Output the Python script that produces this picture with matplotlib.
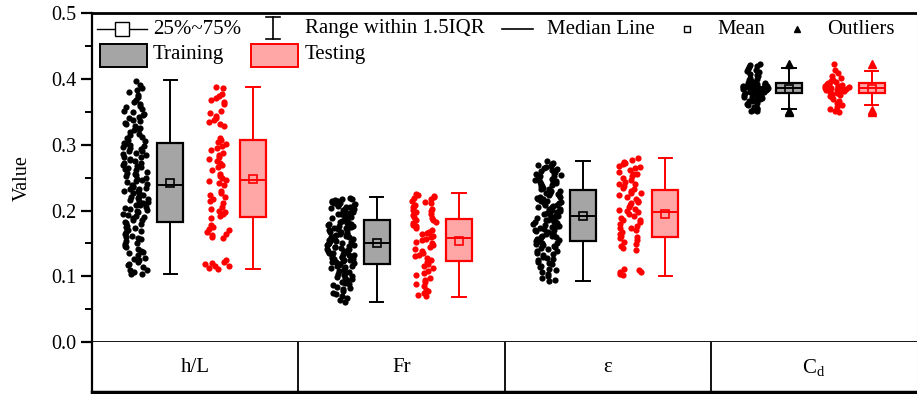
import numpy as np
import matplotlib
matplotlib.use("Agg")
import matplotlib.pyplot as plt
from matplotlib.patches import Rectangle
from matplotlib.lines import Line2D

plt.rcParams["font.family"] = ["Liberation Serif", "DejaVu Serif"]
plt.rcParams["mathtext.fontset"] = "custom"
plt.rcParams["mathtext.rm"] = "Liberation Serif"

# ---------------------------------------------------------------- data
CATEGORIES = ["h/L", "Fr", "ε", r"$\mathregular{C_d}$"]

HL_TRAIN = [0.103, 0.104, 0.106, 0.109, 0.110, 0.114, 0.117, 0.118, 0.122, 0.125, 0.127, 0.128,
            0.132, 0.135, 0.137, 0.139, 0.142, 0.144, 0.146, 0.149, 0.151, 0.153, 0.156, 0.158,
            0.159, 0.162, 0.165, 0.167, 0.169, 0.171, 0.173, 0.175, 0.177, 0.179, 0.181,
            0.183, 0.185, 0.186, 0.188, 0.190, 0.192, 0.193, 0.195, 0.197, 0.199, 0.201, 0.202,
            0.204, 0.206, 0.208, 0.209, 0.211, 0.213, 0.214, 0.216, 0.218, 0.219, 0.221, 0.222,
            0.224, 0.226, 0.227, 0.229, 0.230, 0.232, 0.233, 0.235, 0.236, 0.238, 0.239,
            0.241, 0.243, 0.245, 0.246, 0.248, 0.250, 0.252, 0.254, 0.255, 0.257, 0.259, 0.261,
            0.263, 0.264, 0.266, 0.268, 0.270, 0.272, 0.273, 0.275, 0.277, 0.279, 0.281, 0.282,
            0.284, 0.286, 0.288, 0.290, 0.291, 0.293, 0.295, 0.296, 0.298, 0.300, 0.301,
            0.303, 0.305, 0.308, 0.310, 0.312, 0.315, 0.317, 0.319, 0.322, 0.324, 0.326, 0.329,
            0.331, 0.333, 0.336, 0.338, 0.340, 0.343, 0.345, 0.347, 0.350, 0.352, 0.354, 0.357,
            0.359, 0.362, 0.365, 0.368, 0.372, 0.376, 0.380, 0.384, 0.386, 0.391, 0.397]
HL_TEST = [0.111, 0.113, 0.115, 0.116, 0.118, 0.120, 0.121, 0.124,
           0.158, 0.160, 0.163, 0.165, 0.167, 0.170, 0.172, 0.175, 0.178,
           0.189, 0.192, 0.195, 0.198, 0.200, 0.203, 0.206,
           0.212, 0.215, 0.218, 0.221, 0.224, 0.227, 0.230,
           0.239, 0.242, 0.245, 0.247, 0.250, 0.253, 0.256,
           0.262, 0.266, 0.269, 0.272, 0.275, 0.278, 0.281, 0.284, 0.287,
           0.292, 0.295, 0.298, 0.301, 0.304, 0.307, 0.311,
           0.328, 0.331, 0.334, 0.337, 0.340, 0.344, 0.348, 0.352,
           0.362, 0.365, 0.368, 0.371, 0.374, 0.377, 0.386, 0.388]
FR_TRAIN = [0.061, 0.064, 0.067, 0.070, 0.073, 0.075, 0.078, 0.080, 0.082, 0.084, 0.086, 0.088,
            0.090, 0.092, 0.094, 0.096, 0.097, 0.099, 0.101, 0.102, 0.104, 0.105, 0.107, 0.108,
            0.110, 0.111, 0.113, 0.114, 0.115, 0.116, 0.117, 0.118,
            0.119, 0.120, 0.122, 0.123, 0.124, 0.125, 0.127, 0.128, 0.129, 0.130, 0.131, 0.133,
            0.134, 0.135, 0.136, 0.137, 0.138, 0.139, 0.141, 0.142, 0.143, 0.144, 0.145, 0.146,
            0.147, 0.148, 0.149, 0.150, 0.126, 0.132, 0.140, 0.121,
            0.151, 0.152, 0.153, 0.154, 0.155, 0.156, 0.157, 0.159, 0.160, 0.161, 0.162, 0.163,
            0.164, 0.165, 0.166, 0.167, 0.168, 0.170, 0.171, 0.172, 0.173, 0.174, 0.175, 0.176,
            0.177, 0.178, 0.179, 0.180, 0.181, 0.182, 0.183, 0.184,
            0.186, 0.187, 0.188, 0.189, 0.190, 0.192, 0.193, 0.194, 0.195, 0.196, 0.197, 0.199,
            0.200, 0.201, 0.202, 0.203, 0.204, 0.205, 0.206, 0.207, 0.208, 0.209, 0.210, 0.211,
            0.212, 0.213, 0.214, 0.215, 0.216, 0.217, 0.218, 0.219]
FR_TEST = [0.070, 0.072, 0.074, 0.077, 0.079, 0.085, 0.088, 0.092, 0.095, 0.098, 0.102, 0.105,
           0.108, 0.112, 0.115, 0.118, 0.121,
           0.125, 0.128, 0.131, 0.133, 0.136, 0.139, 0.141, 0.144, 0.147, 0.150, 0.152, 0.155, 0.157,
           0.159, 0.161, 0.164, 0.166, 0.168, 0.171, 0.173, 0.176, 0.178, 0.181, 0.183, 0.185, 0.186,
           0.188, 0.190, 0.193, 0.195, 0.197, 0.199, 0.201, 0.203, 0.205, 0.207, 0.209, 0.211,
           0.213, 0.215, 0.217, 0.219, 0.221, 0.222, 0.224, 0.225]
EPS_TRAIN = [0.093, 0.095, 0.097, 0.100, 0.103, 0.106, 0.109, 0.111, 0.114, 0.116, 0.118, 0.120,
             0.122, 0.124, 0.126, 0.128, 0.130, 0.132, 0.134, 0.136, 0.138, 0.139, 0.141, 0.143,
             0.144, 0.146, 0.147, 0.149, 0.150, 0.151, 0.152, 0.153,
             0.155, 0.156, 0.157, 0.159, 0.160, 0.161, 0.162, 0.164, 0.165, 0.166, 0.167, 0.169,
             0.170, 0.171, 0.172, 0.173, 0.175, 0.176, 0.177, 0.178, 0.179, 0.181, 0.182, 0.183,
             0.184, 0.185, 0.186, 0.187, 0.188, 0.189, 0.190, 0.191,
             0.193, 0.194, 0.195, 0.196, 0.197, 0.199, 0.200, 0.201, 0.202, 0.203, 0.205, 0.206,
             0.207, 0.208, 0.209, 0.211, 0.212, 0.213, 0.214, 0.215, 0.217, 0.218, 0.219, 0.220,
             0.221, 0.223, 0.224, 0.225, 0.226, 0.227, 0.229, 0.230,
             0.232, 0.233, 0.234, 0.235, 0.237, 0.238, 0.239, 0.240, 0.242, 0.243, 0.244, 0.245,
             0.247, 0.248, 0.249, 0.250, 0.252, 0.253, 0.254, 0.256, 0.257, 0.258, 0.260, 0.261,
             0.263, 0.264, 0.266, 0.267, 0.269, 0.271, 0.273, 0.276]
EPS_TEST = [0.102, 0.104, 0.106, 0.107, 0.109, 0.111,
            0.140, 0.143, 0.146, 0.149, 0.152, 0.155, 0.158,
            0.160, 0.162, 0.165, 0.168, 0.171, 0.173, 0.174, 0.177, 0.180, 0.183, 0.185, 0.186,
            0.189, 0.192, 0.195, 0.197,
            0.200, 0.201, 0.203, 0.206, 0.209, 0.212, 0.213, 0.215, 0.218, 0.221, 0.224, 0.226,
            0.227, 0.229, 0.232, 0.235, 0.238, 0.240, 0.241, 0.244, 0.247, 0.250, 0.253, 0.255,
            0.256, 0.259, 0.262, 0.265, 0.266, 0.268, 0.271, 0.272, 0.274, 0.277, 0.280]
CD_TRAIN = [0.351, 0.352, 0.353, 0.354, 0.356, 0.358, 0.360, 0.362, 0.364, 0.366, 0.367, 0.369,
            0.370, 0.371, 0.372, 0.373, 0.374, 0.375, 0.376, 0.376, 0.377, 0.377, 0.378, 0.378,
            0.379, 0.379, 0.380, 0.380, 0.381, 0.381, 0.382, 0.382, 0.383, 0.383, 0.384, 0.384,
            0.385, 0.385, 0.385, 0.386, 0.386, 0.386, 0.387, 0.387, 0.387, 0.388, 0.388, 0.388,
            0.389, 0.389, 0.390, 0.390, 0.391, 0.391, 0.392, 0.392, 0.393, 0.393, 0.394, 0.394,
            0.395, 0.396, 0.397, 0.398, 0.399, 0.400, 0.402, 0.404, 0.406, 0.408, 0.410, 0.412,
            0.414, 0.416, 0.418, 0.420, 0.422, 0.423]
CD_TEST = [0.350, 0.352, 0.354, 0.357, 0.360, 0.363, 0.366, 0.369, 0.372, 0.374, 0.376, 0.378,
           0.379, 0.380, 0.381, 0.382, 0.383, 0.384, 0.384, 0.385, 0.385, 0.386, 0.386, 0.387,
           0.387, 0.388, 0.388, 0.389, 0.390, 0.391, 0.392, 0.393, 0.394, 0.395, 0.397, 0.399,
           0.402, 0.405, 0.409, 0.414, 0.423]

TRAIN_POINTS = [HL_TRAIN, FR_TRAIN, EPS_TRAIN, CD_TRAIN]
TEST_POINTS = [HL_TEST, FR_TEST, EPS_TEST, CD_TEST]

# box statistics
TRAIN_Q1 = [0.182, 0.118, 0.154, 0.379]
TRAIN_MED = [0.239, 0.150, 0.192, 0.386]
TRAIN_Q3 = [0.302, 0.185, 0.231, 0.394]
TRAIN_MEAN = [0.242, 0.151, 0.191, 0.385]
TRAIN_LO = [0.103, 0.061, 0.093, 0.355]
TRAIN_HI = [0.398, 0.220, 0.276, 0.417]
TRAIN_FLIERS = [[], [], [], [0.350, 0.352, 0.423]]

TEST_Q1 = [0.190, 0.123, 0.159, 0.379]
TEST_MED = [0.247, 0.158, 0.198, 0.386]
TEST_Q3 = [0.307, 0.187, 0.231, 0.394]
TEST_MEAN = [0.248, 0.154, 0.194, 0.385]
TEST_LO = [0.111, 0.069, 0.100, 0.361]
TEST_HI = [0.388, 0.226, 0.280, 0.412]
TEST_FLIERS = [[], [], [], [0.350, 0.353, 0.423]]

GRAY, PINK, RED = "#A5A5A5", "#FFA6A6", "#FF0000"


def jitter_x(values, center, half=0.07):
    # deterministic hash spread, wider where the points are denser
    v = np.asarray(values)
    dens = np.array([(np.abs(v - x) < 0.008).sum() for x in v], dtype=float)
    w = half * (0.35 + 0.65 * dens / dens.max())
    i = np.arange(len(v)) + center * 37.0
    frac = (np.sin(i * 12.9898) * 43758.5453) % 1.0
    return center + (frac - 0.5) * 2 * w


def box_stats(q1, med, q3, mean, lo, hi, fliers):
    return [dict(q1=a, med=b, q3=c, mean=d, whislo=e, whishi=f, fliers=g)
            for a, b, c, d, e, f, g in zip(q1, med, q3, mean, lo, hi, fliers)]


fig = plt.figure(figsize=(9.17, 3.94), dpi=100)
W, H = 917, 394
L, R, T, B0, B1 = 92, 917, 13.3, 342, 392
ax = fig.add_axes([L / W, 1 - B0 / H, (R - L) / W, (B0 - T) / H])
tab = fig.add_axes([L / W, 1 - B1 / H, (R - L) / W, (B1 - B0) / H])

groups = np.arange(1, len(CATEGORIES) + 1)
off_tr_pts, off_tr_box, off_te_pts, off_te_box = -0.29, -0.12, 0.11, 0.28

for g, tr, te in zip(groups, TRAIN_POINTS, TEST_POINTS):
    ax.scatter(jitter_x(tr, g + off_tr_pts), tr, s=20, color="black", lw=0, zorder=3)
    ax.scatter(jitter_x(te, g + off_te_pts, 0.06), te, s=20, color=RED, lw=0, zorder=3)

for stats, off, fc, ec in [
    (box_stats(TRAIN_Q1, TRAIN_MED, TRAIN_Q3, TRAIN_MEAN, TRAIN_LO, TRAIN_HI, TRAIN_FLIERS),
     off_tr_box, GRAY, "black"),
    (box_stats(TEST_Q1, TEST_MED, TEST_Q3, TEST_MEAN, TEST_LO, TEST_HI, TEST_FLIERS),
     off_te_box, PINK, RED),
]:
    ax.bxp(stats, positions=groups + off, widths=0.125, capwidths=0.065,
           showmeans=True, patch_artist=True, manage_ticks=False,
           boxprops=dict(facecolor=fc, edgecolor=ec, linewidth=1.6),
           whiskerprops=dict(color=ec, linewidth=1.4),
           capprops=dict(color=ec, linewidth=1.4),
           medianprops=dict(color=ec, linewidth=1.4),
           meanprops=dict(marker="s", markerfacecolor="none", markeredgecolor=ec,
                          markersize=6, markeredgewidth=1.2),
           flierprops=dict(marker="^", markerfacecolor=ec, markeredgecolor=ec,
                           markersize=6))

ax.set_xlim(0.5, 4.5)
ax.set_ylim(0, 0.5)
ax.set_xticks([])
ax.set_yticks(np.arange(0, 0.51, 0.1))
ax.set_yticks(np.arange(0.05, 0.5, 0.1), minor=True)
ax.yaxis.set_major_formatter(plt.FormatStrFormatter("%.1f"))
ax.tick_params(axis="y", which="major", direction="out", length=8, width=1.6, labelsize=14.5)
ax.tick_params(axis="y", which="minor", direction="out", length=5, width=1.4)
ax.set_ylabel("Value", fontsize=14.5, labelpad=14)
ax.spines["left"].set_linewidth(1.6)
ax.spines["top"].set_linewidth(2.0)
ax.spines["bottom"].set_linewidth(2.0)
ax.spines["right"].set_color("#BBBBBB")
ax.spines["right"].set_linewidth(0.8)

# category table under the axis
tab.set_xlim(0.5, 4.5)
tab.set_ylim(0, 1)
tab.set_xticks([])
tab.set_yticks([])
tab.spines["top"].set_visible(False)
tab.spines["left"].set_linewidth(1.6)
tab.spines["bottom"].set_linewidth(2.5)
tab.spines["right"].set_color("#BBBBBB")
tab.spines["right"].set_linewidth(0.8)
for xb in groups[:-1] + 0.5:
    tab.axvline(xb, color="black", lw=1.3)
for g, name in zip(groups, CATEGORIES):
    tab.text(g, 0.5, name, ha="center", va="center", fontsize=15)


# legend drawn by hand, positions in pixels of the reference
def fx(px):
    return (px - L) / (R - L)


def fy(py):
    return (B0 - py) / (B0 - T)


tr = ax.transAxes
row1, row2 = 29, 55
FS = 15
ax.add_line(Line2D([fx(97), fx(147)], [fy(row1)] * 2, transform=tr, color="black", lw=1.0))
ax.add_line(Line2D([fx(122)], [fy(row1)], transform=tr, marker="s", markersize=10,
                   markerfacecolor="white", markeredgecolor="black", markeredgewidth=1.0))
ax.text(fx(153), fy(row1), "25%~75%", transform=tr, va="center", fontsize=FS)
ax.add_line(Line2D([fx(273)] * 2, [fy(17), fy(39)], transform=tr, color="black", lw=1.2))
for yy in (17, 39):
    ax.add_line(Line2D([fx(266), fx(280)], [fy(yy)] * 2, transform=tr, color="black", lw=1.2))
ax.text(fx(305), fy(row1), "Range within 1.5IQR", transform=tr, va="center", fontsize=FS)
ax.add_line(Line2D([fx(502), fx(533)], [fy(row1)] * 2, transform=tr, color="black", lw=1.2))
ax.text(fx(547), fy(row1), "Median Line", transform=tr, va="center", fontsize=FS)
ax.add_line(Line2D([fx(687)], [fy(row1)], transform=tr, marker="s", markersize=5,
                   markerfacecolor="white", markeredgecolor="black", markeredgewidth=1.0))
ax.text(fx(717), fy(row1), "Mean", transform=tr, va="center", fontsize=FS)
ax.add_line(Line2D([fx(797)], [fy(row1)], transform=tr, marker="^", markersize=5,
                   color="black"))
ax.text(fx(827), fy(row1), "Outliers", transform=tr, va="center", fontsize=FS)

ax.add_patch(Rectangle((fx(100), fy(67)), fx(147) - fx(100), fy(44) - fy(67), transform=tr,
                       facecolor=GRAY, edgecolor="black", lw=1.4))
ax.text(fx(153), fy(row2), "Training", transform=tr, va="center", fontsize=FS)
ax.add_patch(Rectangle((fx(251), fy(67)), fx(298) - fx(251), fy(44) - fy(67), transform=tr,
                       facecolor=PINK, edgecolor=RED, lw=1.4))
ax.text(fx(305), fy(row2), "Testing", transform=tr, va="center", fontsize=FS)

fig.savefig("out.png", dpi=100, facecolor="white")
